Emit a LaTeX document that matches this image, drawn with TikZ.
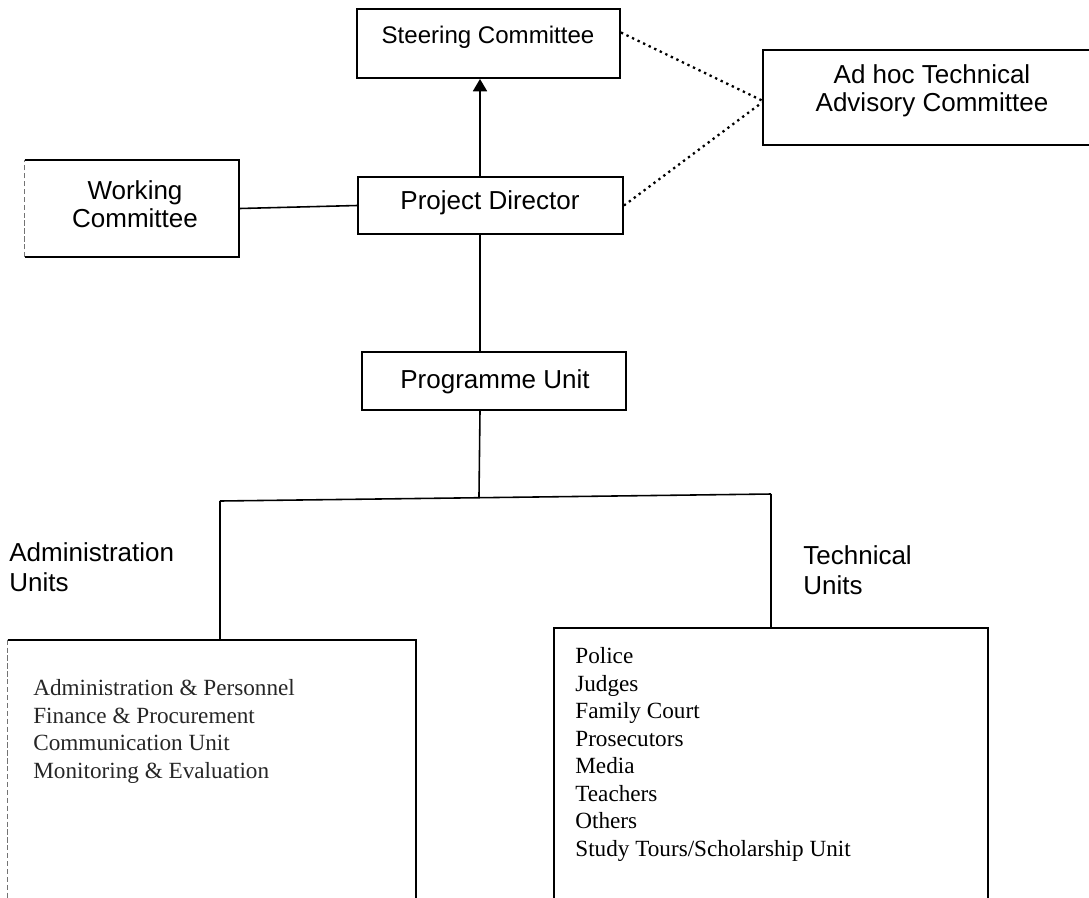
\documentclass[tikz,border=0pt]{standalone}
\usepackage{fontspec}
\setmainfont{Liberation Serif}
\setsansfont{Liberation Sans}
\usetikzlibrary{arrows.meta,fit,calc}
\begin{document}
\begin{tikzpicture}[x=0.02cm,y=-0.02cm,
  boxed/.style={draw, line width=1.1pt, inner sep=0pt},
  plain/.style={inner sep=0pt},
  lbl/.style={font=\sffamily\fontsize{14.8pt}{15.9pt}\selectfont, align=center, inner sep=0pt},
  side/.style={font=\sffamily\fontsize{14.8pt}{17pt}\selectfont, align=left, inner sep=0pt, anchor=north west},
  listtext/.style={font=\fontsize{13.2pt}{15.7pt}\selectfont, align=left, inner sep=0pt, anchor=north west},
  conn/.style={line width=0.9pt},
  dots/.style={line width=1.3pt, dash pattern=on 1.3pt off 2.2pt},
  faint/.style={line width=0.7pt, black!55, dash pattern=on 3pt off 1.5pt},
]
\useasboundingbox (0,0) rectangle (1089,897);

% boxes
\node[boxed, fit={(357,9) (620,78)}] (sc) {};
\node[lbl, font=\sffamily\fontsize{13.7pt}{15pt}\selectfont] (sct) at (488,37) {Steering Committee};

\node[boxed, fit={(763,50) (1100,145)}] (adh) {};
\node[lbl] (adht) at (932,91) {Ad hoc Technical\\Advisory Committee};

\node[boxed, fit={(358,177) (623,234)}] (pd) {};
\node[lbl] (pdt) at (490,203) {Project Director};

\node[plain, fit={(25,160) (239,257)}] (wc) {};
\node[lbl] (wct) at (135,204) {Working\\Committee};
\draw[line width=1.1pt] (wc.north west) -- (wc.north east) -- (wc.south east) -- (wc.south west);
\draw[faint] (wc.south west) -- (wc.north west);

\node[boxed, fit={(362,352) (626,410)}] (pu) {};
\node[lbl] (put) at (495,382) {Programme Unit};

% bottom boxes
\node[plain, fit={(8,640) (416,905)}] (abox) {};
\draw[line width=1.1pt] (abox.north west) -- (abox.north east) -- (abox.south east);
\draw[faint] (abox.north west) -- (abox.south west);
\node[listtext, text=black!85] (alist) at (33,679) {Administration \& Personnel\\Finance \& Procurement\\Communication Unit\\Monitoring \& Evaluation};

\node[boxed, fit={(554,628) (988,905)}] (tbox) {};
\node[listtext] (tlist) at (575,647) {Police\\Judges\\Family Court\\Prosecutors\\Media\\Teachers\\Others\\Study Tours/Scholarship Unit};

% side labels
\node[side] (adml) at (9,542) {Administration\\Units};
\node[side] (tecl) at (803,545) {Technical\\Units};

% connectors
\coordinate (trunk) at (480,0);
\coordinate (busL) at (220,501);
\coordinate (busR) at (771,494);

\draw[conn, -{Triangle[length=7pt,width=8pt]}] (pd.north -| trunk) -- (sc.south -| trunk);
\draw[conn] (wc.east) -- (pd.west);
\draw[conn] (pd.south -| trunk) -- (pu.north -| trunk);
\draw[conn] (pu.south -| trunk) -- ($(busL)!0.47!(busR)$);
\draw[conn] (busL) -- (busR);
\draw[conn] (busL) -- (abox.north -| busL);
\draw[conn] (busR) -- (tbox.north -| busR);

\draw[dots] ([yshift=0.22cm]sc.east) -- ([yshift=-0.06cm]adh.west);
\draw[dots] (pd.east) -- ([yshift=-0.1cm]adh.west);
\end{tikzpicture}
\end{document}
